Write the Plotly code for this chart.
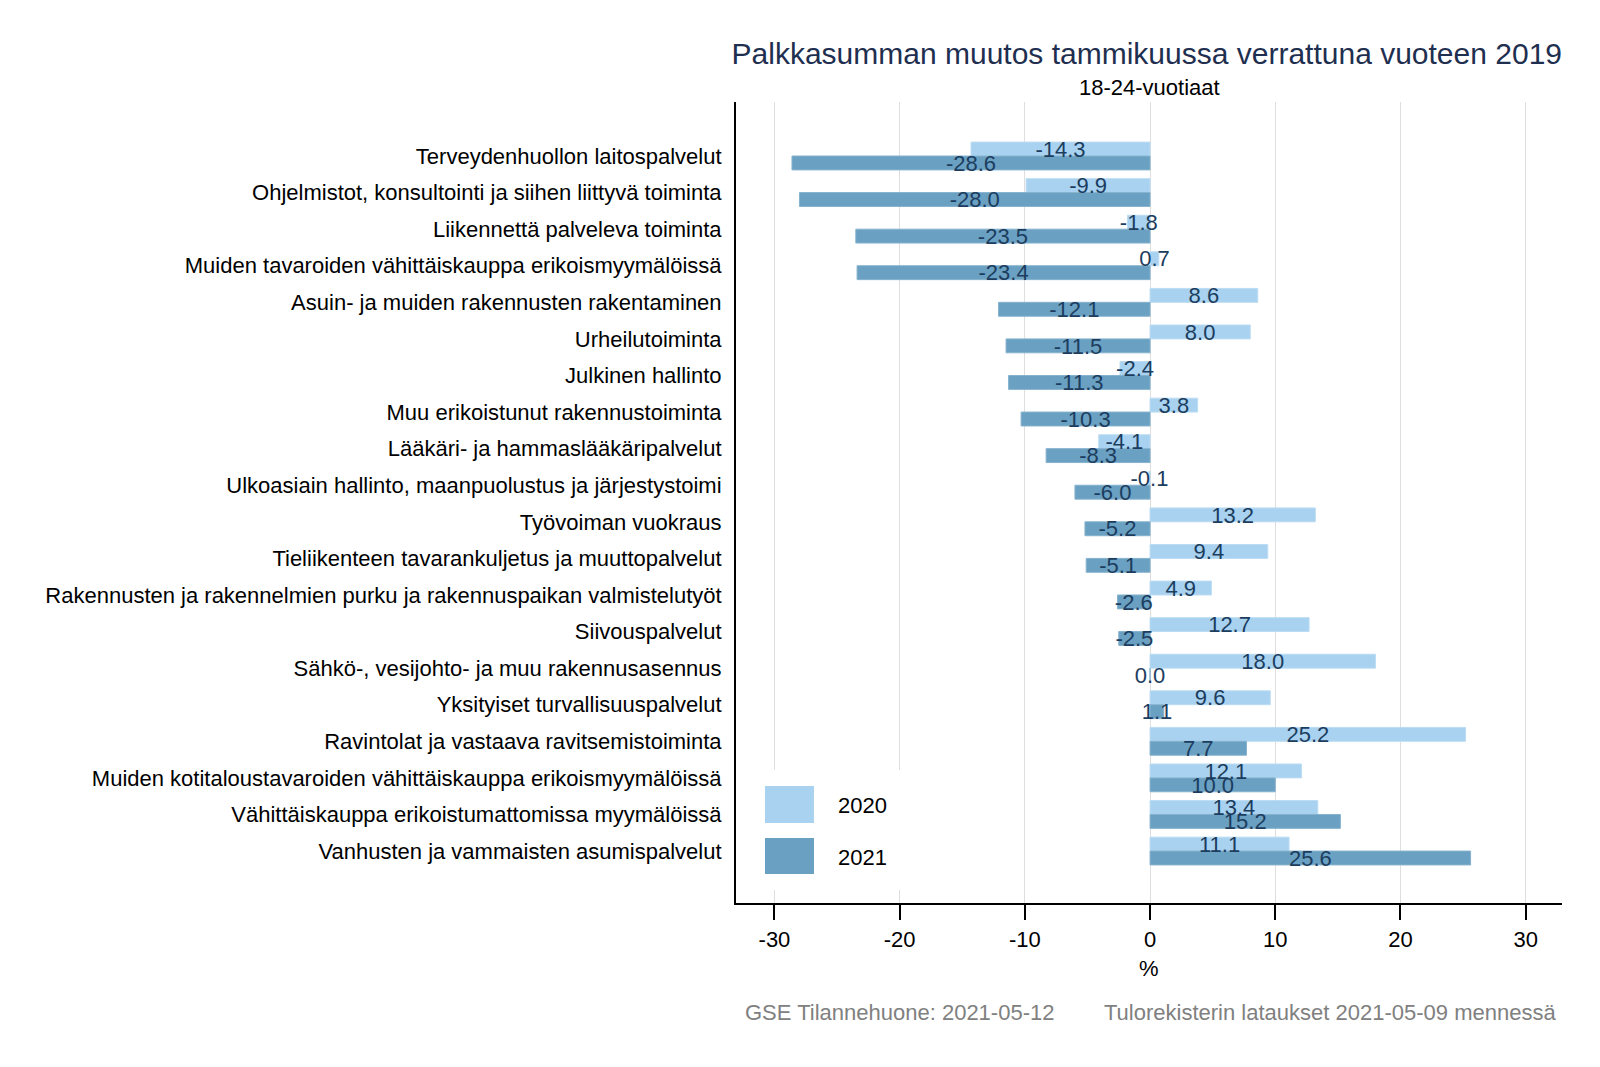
import plotly.graph_objects as go
import numpy as np

categories = [
    "Terveydenhuollon laitospalvelut",
    "Ohjelmistot, konsultointi ja siihen liittyvä toiminta",
    "Liikennettä palveleva toiminta",
    "Muiden tavaroiden vähittäiskauppa erikoismyymälöissä",
    "Asuin- ja muiden rakennusten rakentaminen",
    "Urheilutoiminta",
    "Julkinen hallinto",
    "Muu erikoistunut rakennustoiminta",
    "Lääkäri- ja hammaslääkäripalvelut",
    "Ulkoasiain hallinto, maanpuolustus ja järjestystoimi",
    "Työvoiman vuokraus",
    "Tieliikenteen tavarankuljetus ja muuttopalvelut",
    "Rakennusten ja rakennelmien purku ja rakennuspaikan valmistelutyöt",
    "Siivouspalvelut",
    "Sähkö-, vesijohto- ja muu rakennusasennus",
    "Yksityiset turvallisuuspalvelut",
    "Ravintolat ja vastaava ravitsemistoiminta",
    "Muiden kotitaloustavaroiden vähittäiskauppa erikoismyymälöissä",
    "Vähittäiskauppa erikoistumattomissa myymälöissä",
    "Vanhusten ja vammaisten asumispalvelut",
]
values_2020 = [-14.3, -9.9, -1.8, 0.7, 8.6, 8.0, -2.4, 3.8, -4.1, -0.1,
               13.2, 9.4, 4.9, 12.7, 18.0, 9.6, 25.2, 12.1, 13.4, 11.1]
values_2021 = [-28.6, -28.0, -23.5, -23.4, -12.1, -11.5, -11.3, -10.3, -8.3, -6.0,
               -5.2, -5.1, -2.6, -2.5, 0.0, 1.1, 7.7, 10.0, 15.2, 25.6]
series_names = ["2020", "2021"]
x_ticks = [-30, -20, -10, 0, 10, 20, 30]

FONT = "Liberation Sans, Arial, sans-serif"
C2020 = "#a8d2f0"
C2021 = "#6aa0c2"
LABEL_COLOR = "#1c3d5e"
BW = 0.38

idx = np.arange(len(categories))
v20 = np.array(values_2020)
v21 = np.array(values_2021)

fig = go.Figure()
fig.add_trace(go.Bar(
    x=v20, y=idx, orientation="h", width=BW, offset=-BW,
    marker=dict(color=C2020, line=dict(color="#bcdcf3", width=1)),
    name=series_names[0], showlegend=False, hoverinfo="x",
))
fig.add_trace(go.Bar(
    x=v21, y=idx, orientation="h", width=BW, offset=0,
    marker=dict(color=C2021, line=dict(color="#86b2ce", width=1)),
    name=series_names[1], showlegend=False, hoverinfo="x",
))
# value labels centred on bars
fig.add_trace(go.Scatter(
    x=v20 / 2, y=idx - BW / 2 + 0.06, mode="text",
    text=[f"{v:.1f}" for v in v20], textposition="middle center",
    textfont=dict(family=FONT, size=22, color=LABEL_COLOR),
    showlegend=False, hoverinfo="skip",
))
fig.add_trace(go.Scatter(
    x=v21 / 2, y=idx + BW / 2 + 0.06, mode="text",
    text=[f"{v:.1f}" for v in v21], textposition="middle center",
    textfont=dict(family=FONT, size=22, color=LABEL_COLOR),
    showlegend=False, hoverinfo="skip",
))

n = len(categories)
# page has an 8px body margin: plot area in page pixels is x 736..1562, y 102..903
fig.update_layout(
    width=1600, height=1067,
    margin=dict(l=728, r=46, t=94, b=172),
    paper_bgcolor="white", plot_bgcolor="white",
    barmode="overlay",
    font=dict(family=FONT, size=22, color="black"),
    title=dict(
        text="Palkkasumman muutos tammikuussa verrattuna vuoteen 2019",
        x=1, xref="paper", xanchor="right",
        y=1 - 45 / 1067, yref="container", yanchor="middle",
        font=dict(family=FONT, size=30, color="#1f2f50"),
    ),
    xaxis=dict(
        range=[-33.07, 32.9], tickvals=x_ticks, ticktext=[str(t) for t in x_ticks],
        showgrid=True, gridcolor="#dedede", gridwidth=1, zeroline=False,
        showline=True, linecolor="black", linewidth=2,
        ticks="outside", ticklen=15, tickwidth=2, tickcolor="black",
        tickfont=dict(family=FONT, size=22, color="black"),
        ticklabelstandoff=1,
    ),
    yaxis=dict(
        range=[n - 1 + 1.42, -1.476], tickvals=idx, ticktext=categories,
        showgrid=False, zeroline=False,
        showline=True, linecolor="black", linewidth=2,
        ticks="", ticklabelstandoff=8,
        tickfont=dict(family=FONT, size=22, color="black"),
    ),
)

# legend box (manual, large swatches)
shapes = [
    dict(type="rect", xref="paper", yref="paper", x0=0.011, x1=0.27, y0=0.0162, y1=0.166,
         fillcolor="white", line=dict(width=0), layer="above"),
    dict(type="rect", xref="paper", yref="paper", x0=0.0351, x1=0.0944, y0=0.0999, y1=0.1461,
         fillcolor=C2020, line=dict(width=0), layer="above"),
    dict(type="rect", xref="paper", yref="paper", x0=0.0351, x1=0.0944, y0=0.0362, y1=0.0811,
         fillcolor=C2021, line=dict(width=0), layer="above"),
]
fig.update_layout(shapes=shapes)

annotations = [
    dict(text=series_names[0], xref="paper", yref="paper", x=0.1211, y=0.1223,
         xanchor="left", yanchor="middle", showarrow=False,
         font=dict(family=FONT, size=22, color="black")),
    dict(text=series_names[1], xref="paper", yref="paper", x=0.1211, y=0.0574,
         xanchor="left", yanchor="middle", showarrow=False,
         font=dict(family=FONT, size=22, color="black")),
    dict(text="18-24-vuotiaat", xref="paper", yref="paper", x=0.5, y=(903 - 88) / 801,
         xanchor="center", yanchor="middle", showarrow=False,
         font=dict(family=FONT, size=22, color="black")),
    dict(text="%", xref="paper", yref="paper", x=0.5, y=(903 - 968) / 801,
         xanchor="center", yanchor="middle", showarrow=False,
         font=dict(family=FONT, size=22, color="black")),
    dict(text="GSE Tilannehuone: 2021-05-12", xref="paper", yref="paper",
         x=(743 - 736) / 826, y=(903 - 1012) / 801,
         xanchor="left", yanchor="middle", showarrow=False,
         font=dict(family=FONT, size=22, color="#808080")),
    dict(text="Tulorekisterin lataukset 2021-05-09 mennessä", xref="paper", yref="paper",
         x=(1558 - 736) / 826, y=(903 - 1012) / 801,
         xanchor="right", yanchor="middle", showarrow=False,
         font=dict(family=FONT, size=22, color="#808080")),
]
fig.update_layout(annotations=annotations)

fig.write_html("out.html")
